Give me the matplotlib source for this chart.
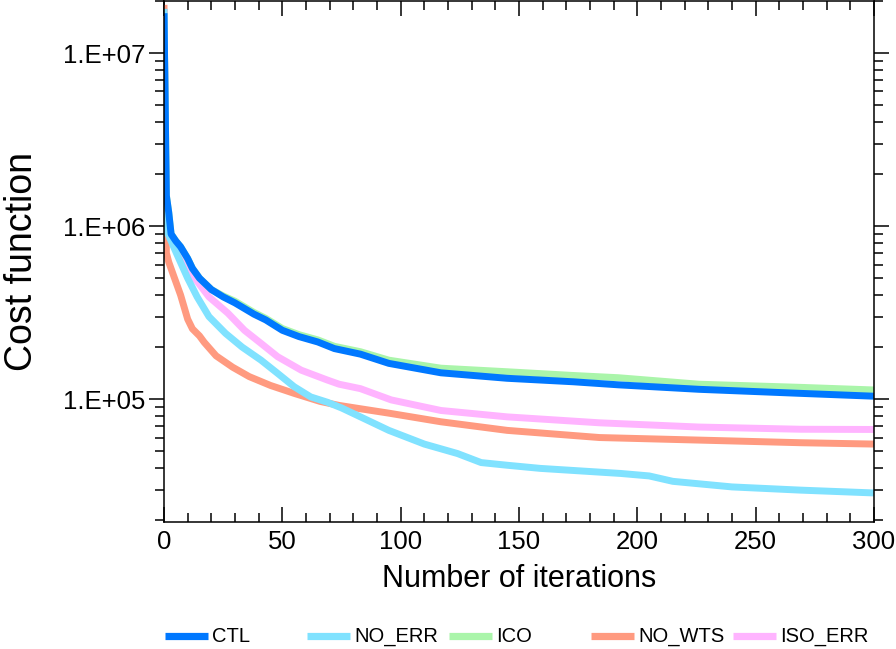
import numpy as np
import matplotlib
matplotlib.use("Agg")
import matplotlib.pyplot as plt
from matplotlib.lines import Line2D
from matplotlib.ticker import LogLocator, FuncFormatter, MultipleLocator, NullFormatter

plt.rcParams['font.family'] = ['Liberation Sans', 'DejaVu Sans']

# cost function vs iteration
ctl_it = [0, 1, 2, 3, 5, 7, 10, 12, 15, 20, 25, 30, 38, 43, 50, 57, 65, 72, 83, 95,
          117, 145, 173, 192, 226, 269, 300]
ctl = [1.7e7, 1.5e6, 1.2e6, 9.0e5, 8.2e5, 7.6e5, 6.5e5, 5.7e5, 5.0e5, 4.3e5, 3.9e5,
       3.6e5, 3.1e5, 2.87e5, 2.5e5, 2.3e5, 2.14e5, 1.96e5, 1.82e5, 1.61e5,
       1.42e5, 1.32e5, 1.26e5, 1.21e5, 1.14e5, 1.08e5, 1.04e5]

ico_it = ctl_it
ico = [1.7e7, 1.5e6, 1.2e6, 9.0e5, 8.2e5, 7.6e5, 6.5e5, 5.7e5, 5.0e5, 4.3e5, 3.95e5,
       3.68e5, 3.17e5, 2.93e5, 2.56e5, 2.36e5, 2.2e5, 2.02e5, 1.88e5, 1.68e5,
       1.51e5, 1.44e5, 1.37e5, 1.33e5, 1.22e5, 1.17e5, 1.13e5]

no_err_it = [0, 1, 2.5, 5, 10, 14, 19, 26, 33, 41, 48, 55, 62, 69, 75, 83, 95, 110,
             124, 134, 145, 159, 193, 205, 215, 240, 269, 300]
no_err = [1.8e7, 9.5e5, 8.5e5, 7.1e5, 5.0e5, 3.9e5, 3.0e5, 2.4e5, 2.0e5, 1.68e5,
          1.41e5, 1.18e5, 1.03e5, 9.6e4, 8.9e4, 7.9e4, 6.6e4, 5.5e4, 4.85e4, 4.3e4,
          4.15e4, 3.98e4, 3.72e4, 3.6e4, 3.35e4, 3.11e4, 2.98e4, 2.87e4]

no_wts_it = [0, 1, 2, 4, 7, 10, 12, 15, 17, 22, 29, 36, 45, 55, 66, 74, 83, 95, 117,
             145, 184, 226, 269, 300]
no_wts = [1.9e7, 7.0e5, 6.2e5, 5.2e5, 4.0e5, 2.9e5, 2.55e5, 2.32e5, 2.13e5, 1.78e5,
          1.53e5, 1.35e5, 1.2e5, 1.08e5, 9.7e4, 9.2e4, 8.8e4, 8.3e4, 7.4e4, 6.6e4,
          6.0e4, 5.8e4, 5.6e4, 5.5e4]

iso_err_it = [0, 1, 3, 6, 10, 12, 15, 19, 23, 27, 34, 41, 48, 58, 69, 74, 83, 96,
              117, 145, 184, 226, 269, 300]
iso_err = [1.8e7, 1.0e6, 8.2e5, 7.3e5, 6.0e5, 5.2e5, 4.6e5, 3.9e5, 3.5e5, 3.14e5,
           2.5e5, 2.1e5, 1.76e5, 1.47e5, 1.29e5, 1.22e5, 1.15e5, 9.9e4, 8.6e4,
           7.9e4, 7.3e4, 6.9e4, 6.7e4, 6.68e4]

names = ['CTL', 'NO_ERR', 'ICO', 'NO_WTS', 'ISO_ERR']
colors = ['#0078FF', '#80E2FF', '#AAF5AA', '#FF9A80', '#FFB4FF']

series = {
    'CTL': (ctl_it, ctl),
    'NO_ERR': (no_err_it, no_err),
    'ICO': (ico_it, ico),
    'NO_WTS': (no_wts_it, no_wts),
    'ISO_ERR': (iso_err_it, iso_err),
}

fig = plt.figure(figsize=(8.96, 6.49), dpi=100)
W, H = 896, 649
ax = fig.add_axes([164 / W, 1 - 522 / H, 710 / W, 521 / H])

# draw back to front so CTL sits on top
for name in ['ISO_ERR', 'NO_WTS', 'ICO', 'NO_ERR', 'CTL']:
    it, val = series[name]
    ax.plot(it, val, color=colors[names.index(name)], lw=5.0,
            solid_joinstyle='round', solid_capstyle='butt')

ax.set_yscale('log')
ax.set_xlim(0, 300)
ax.set_ylim(1.95e4, 2.0e7)

ax.xaxis.set_major_locator(MultipleLocator(50))
ax.xaxis.set_minor_locator(MultipleLocator(10))
ax.yaxis.set_major_locator(LogLocator(base=10, numticks=10))
ax.yaxis.set_minor_locator(LogLocator(base=10, subs=np.arange(2, 10), numticks=20))
ax.yaxis.set_minor_formatter(NullFormatter())
ax.yaxis.set_major_formatter(FuncFormatter(lambda v, p: '1.E+%02d' % round(np.log10(v))))

ax.tick_params(axis='x', which='both', direction='in', top=True, width=1.1,
               labelsize=18.5, pad=6, colors='black')
ax.tick_params(axis='x', which='major', length=10.5)
ax.tick_params(axis='x', which='minor', length=6.5)
ax.tick_params(axis='y', which='both', direction='out', right=True, width=1.1,
               labelsize=18.5, pad=3)
ax.tick_params(axis='y', which='major', length=10.5)
ax.tick_params(axis='y', which='minor', length=6.5)
for s in ax.spines.values():
    s.set_linewidth(1.1)

ax.set_xlabel('Number of iterations', fontsize=22)
ax.xaxis.set_label_coords(0.5, -0.08)
ax.set_ylabel('Cost function', fontsize=27)
ax.yaxis.set_label_coords(-0.175, 0.5)

# legend row under the plot, fixed spacing like the original
y_leg = 1 - 636 / H
for i, name in enumerate(names):
    x0 = 165 + i * 142
    fig.add_artist(Line2D([x0 / W, (x0 + 43) / W], [y_leg, y_leg],
                          color=colors[i], lw=5.2, solid_capstyle='butt'))
    fig.text((x0 + 47) / W, y_leg, name, fontsize=14.5, va='center', ha='left')

fig.savefig('out.png', dpi=100)
